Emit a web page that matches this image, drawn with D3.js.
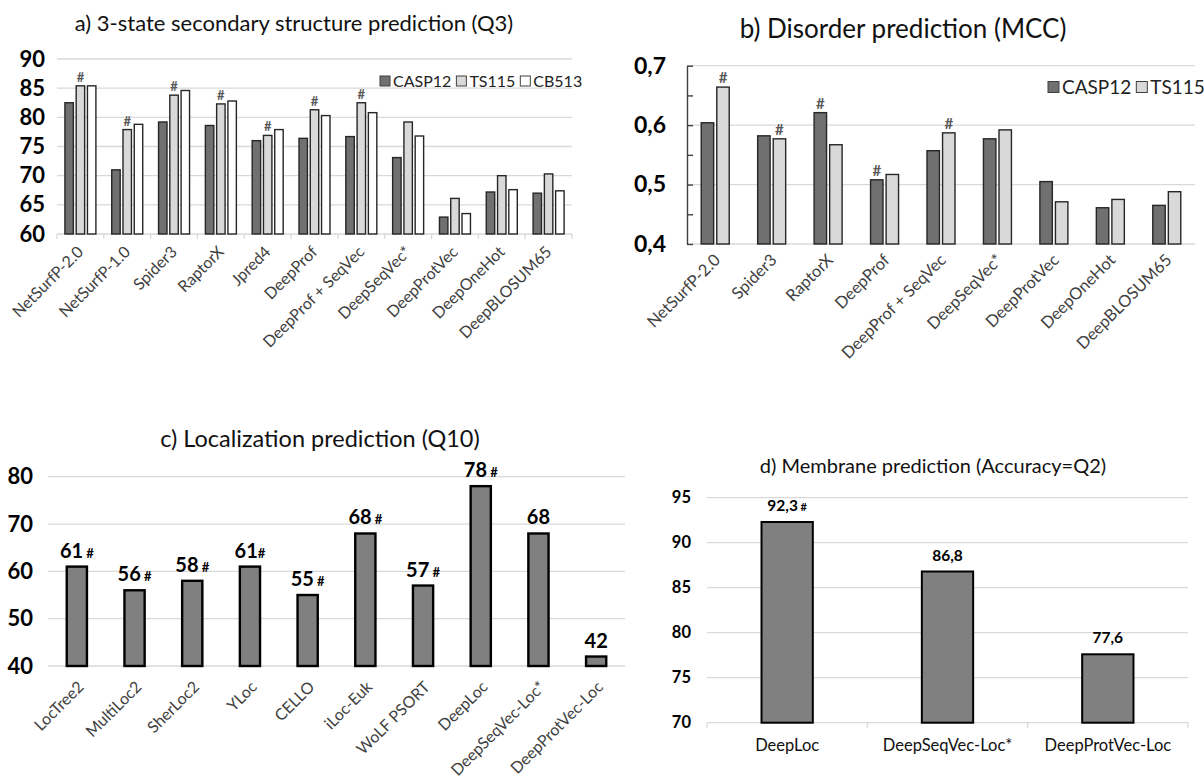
<!DOCTYPE html>
<html>
<head>
<meta charset="utf-8">
<script src="https://cdn.jsdelivr.net/npm/d3@7"></script>
<style>
  body { margin: 0; background: #fff; }
  svg { font-family: Lato, "Open Sans", sans-serif; }
</style>
</head>
<body>
<svg id="chart" width="1204" height="782"></svg>
<script>
// a) 3-state secondary structure prediction (Q3)
var catsA = ["NetSurfP-2.0", "NetSurfP-1.0", "Spider3", "RaptorX", "Jpred4", "DeepProf",
  "DeepProf + SeqVec", "DeepSeqVec*", "DeepProtVec", "DeepOneHot", "DeepBLOSUM65"];
var casp12A = [82.5, 71.0, 79.2, 78.6, 76.0, 76.4, 76.7, 73.1, 62.9, 67.2, 67.0];
var ts115A = [85.4, 77.9, 83.8, 82.3, 76.9, 81.3, 82.5, 79.2, 66.1, 70.0, 70.3];
var cb513A = [85.4, 78.8, 84.6, 82.8, 77.9, 80.3, 80.8, 76.8, 63.5, 67.6, 67.4];
var hashA = ["TS115", "TS115", "TS115", "TS115", "TS115", "TS115", "TS115", null, null, null, null];
var ticksA = [60, 65, 70, 75, 80, 85, 90];

// b) Disorder prediction (MCC)
var catsB = ["NetSurfP-2.0", "Spider3", "RaptorX", "DeepProf", "DeepProf + SeqVec",
  "DeepSeqVec*", "DeepProtVec", "DeepOneHot", "DeepBLOSUM65"];
var casp12B = [0.604, 0.582, 0.621, 0.508, 0.557, 0.577, 0.505, 0.461, 0.465];
var ts115B = [0.664, 0.577, 0.567, 0.517, 0.587, 0.592, 0.471, 0.475, 0.488];
var hashB = ["TS115", "TS115", "CASP12", "CASP12", "TS115", null, null, null, null];
var ticksB = [0.4, 0.5, 0.6, 0.7];
var minorB = [0.4, 0.45, 0.5, 0.55, 0.6, 0.65, 0.7];

// c) Localization prediction (Q10)
var catsC = ["LocTree2", "MultiLoc2", "SherLoc2", "YLoc", "CELLO", "iLoc-Euk", "WoLF PSORT",
  "DeepLoc", "DeepSeqVec-Loc*", "DeepProtVec-Loc"];
var valsC = [61, 56, 58, 61, 55, 68, 57, 78, 68, 42];
var hashC = [true, true, true, true, true, true, true, true, false, false];
var ticksC = [40, 50, 60, 70, 80];

// d) Membrane prediction (Accuracy=Q2)
var catsD = ["DeepLoc", "DeepSeqVec-Loc*", "DeepProtVec-Loc"];
var valsD = [92.3, 86.8, 77.6];
var hashD = [true, false, false];
var ticksD = [70, 75, 80, 85, 90, 95];

var colors = { CASP12: "#707070", TS115: "#d9d9d9", CB513: "#ffffff" };
var grid = "#d9d9d9";
var comma = d3.formatLocale({ decimal: ",", thousands: ".", grouping: [3], currency: ["", ""] });

var svg = d3.select("#chart");
svg.append("rect").attr("width", 1204).attr("height", 782).attr("fill", "#fff");

function title(txt, x, y, size) {
  svg.append("text").attr("x", x).attr("y", y).attr("text-anchor", "middle")
    .style("font-size", size + "px").attr("fill", "#111").text(txt);
}

function gridLines(g, ticks, y, x0, x1) {
  g.selectAll(".grid").data(ticks).enter().append("line")
    .attr("x1", x0).attr("x2", x1)
    .attr("y1", function(d){ return y(d); }).attr("y2", function(d){ return y(d); })
    .attr("stroke", grid).attr("stroke-width", 1.3);
}

function yLabels(g, y, ticks, xpos, size, fmt) {
  var ax = g.append("g").attr("transform", "translate(" + xpos + ",0)")
    .call(d3.axisLeft(y).tickValues(ticks).tickSize(0).tickPadding(0).tickFormat(fmt || d3.format("d")));
  ax.select(".domain").remove();
  ax.selectAll("text").style("font-size", size + "px").style("font-weight", "bold")
    .attr("fill", "#000").style("font-family", "Lato, sans-serif");
}

function boundaryTicks(g, x, yb, len) {
  var pos = x.domain().map(function(d){ return x(d) - x.paddingOuter() * x.step(); });
  pos.push(x.range()[1]);
  g.selectAll(".bt").data(pos).enter().append("line")
    .attr("x1", function(d){ return d; }).attr("x2", function(d){ return d; })
    .attr("y1", yb).attr("y2", yb + len).attr("stroke", grid).attr("stroke-width", 1.3);
}

function rotLabels(g, x, yb, size, dx, dy) {
  var ax = g.append("g").attr("transform", "translate(0," + yb + ")")
    .call(d3.axisBottom(x).tickSize(0).tickPadding(0));
  ax.select(".domain").remove();
  ax.selectAll("text")
    .attr("y", 0).attr("dy", "0.35em")
    .attr("transform", "translate(" + dx + "," + dy + ") rotate(-45)")
    .style("text-anchor", "end").style("font-size", size + "px")
    .style("font-family", "Lato, sans-serif").attr("fill", "#404040");
}

function legend(items, x, yc, sq, size) {
  var lg = svg.append("g");
  var cx = x;
  items.forEach(function(k) {
    lg.append("rect").attr("x", cx).attr("y", yc - sq / 2).attr("width", sq).attr("height", sq)
      .attr("fill", colors[k]).attr("stroke", "#404040").attr("stroke-width", 1);
    var t = lg.append("text").attr("x", cx + sq + 3).attr("y", yc).attr("dy", "0.35em")
      .style("font-size", size + "px").attr("fill", "#222").text(k);
    cx = cx + sq + 3 + t.node().getComputedTextLength() + 5;
  });
}

function grouped(o) {
  var g = svg.append("g");
  var x = d3.scaleBand().domain(o.cats).range(o.xr);
  var keys = o.series.map(function(s){ return s.key; });
  var off = (x.bandwidth() - o.gw) / 2;
  var x1 = d3.scaleBand().domain(keys).range([off, off + o.gw]).paddingInner(o.pin);
  var y = d3.scaleLinear().domain(o.yd).range(o.yr);

  gridLines(g, o.grid, y, o.xr[0], o.xr[1]);

  var groups = g.selectAll(".grp").data(o.cats).enter().append("g")
    .attr("transform", function(d){ return "translate(" + x(d) + ",0)"; });
  groups.selectAll("rect")
    .data(function(d, i){ return o.series.map(function(s){ return { key: s.key, v: s.values[i] }; }); })
    .enter().append("rect")
    .attr("x", function(d){ return x1(d.key); })
    .attr("y", function(d){ return y(d.v); })
    .attr("width", x1.bandwidth())
    .attr("height", function(d){ return y(o.yd[0]) - y(d.v); })
    .attr("fill", function(d){ return colors[d.key]; })
    .attr("stroke", "#262626").attr("stroke-width", 1.4);

  groups.each(function(c, i) {
    var k = o.hash[i];
    if (!k) return;
    var v = o.series[keys.indexOf(k)].values[i];
    d3.select(this).append("text")
      .attr("x", x1(k) + x1.bandwidth() / 2).attr("y", y(v) - 4)
      .attr("text-anchor", "middle").style("font-size", o.hashSize + "px")
      .style("font-weight", "bold").attr("fill", "#595959").text("#");
  });
  return { g: g, x: x, y: y };
}

// ---- panel a
title("a) 3-state secondary structure prediction (Q3)", 294, 31, 22);
var pa = grouped({
  cats: catsA, xr: [57, 572], yd: [60, 90], yr: [234, 59], gw: 31, pin: 0.25,
  series: [{ key: "CASP12", values: casp12A }, { key: "TS115", values: ts115A }, { key: "CB513", values: cb513A }],
  hash: hashA, hashSize: 13, grid: ticksA
});
boundaryTicks(pa.g, pa.x, 234, 5);
yLabels(pa.g, pa.y, ticksA, 45, 22);
rotLabels(pa.g, pa.x, 234, 16, 0, 15);
legend(["CASP12", "TS115", "CB513"], 380, 81, 10, 16);

// ---- panel b
title("b) Disorder prediction (MCC)", 903, 38, 26);
var pb = grouped({
  cats: catsB, xr: [687, 1195], yd: [0.4, 0.7], yr: [244, 65.7], gw: 28, pin: 0.2,
  series: [{ key: "CASP12", values: casp12B }, { key: "TS115", values: ts115B }],
  hash: hashB, hashSize: 15, grid: ticksB
});
var axb = pb.g.append("g").attr("transform", "translate(687,0)")
  .call(d3.axisLeft(pb.y).tickValues(minorB).tickSize(-6).tickSizeOuter(0).tickFormat(""));
axb.selectAll("line, path").attr("stroke", "#404040").attr("stroke-width", 1.4);
yLabels(pb.g, pb.y, ticksB, 666, 23, comma.format(".1f"));
rotLabels(pb.g, pb.x, 244, 16.5, 2, 13);
legend(["CASP12", "TS115"], 1048, 87, 11, 19);

// ---- panel c
title("c) Localization prediction (Q10)", 320, 447, 23.5);
var gc = svg.append("g");
var xc = d3.scaleBand().domain(catsC).range([48, 625]).paddingInner(0.65).paddingOuter(0.325);
var yc = d3.scaleLinear().domain([40, 80]).range([666, 476.7]);
gridLines(gc, ticksC, yc, 48, 625);
gc.selectAll(".bar").data(valsC).enter().append("rect")
  .attr("x", function(d, i){ return xc(catsC[i]); })
  .attr("y", function(d){ return yc(d); })
  .attr("width", xc.bandwidth())
  .attr("height", function(d){ return yc(40) - yc(d); })
  .attr("fill", "#808080").attr("stroke", "#000").attr("stroke-width", 2.4);
var lc = gc.selectAll(".vl").data(valsC).enter().append("text")
  .attr("x", function(d, i){ return xc(catsC[i]) + xc.bandwidth() / 2; })
  .attr("y", function(d){ return yc(d) - 9; })
  .attr("text-anchor", "middle").style("font-weight", "bold").attr("fill", "#000");
lc.append("tspan").style("font-size", "20px").text(function(d){ return d; });
lc.append("tspan").style("font-size", "13px").text(function(d, i){ return hashC[i] ? (i === 3 ? "#" : " #") : ""; });
yLabels(gc, yc, ticksC, 33, 22);
rotLabels(gc, xc, 666, 16, 4, 18);

// ---- panel d
title("d) Membrane prediction (Accuracy=Q2)", 933, 473, 20);
var gd = svg.append("g");
var xd = d3.scaleBand().domain(catsD).range([707, 1188]).paddingInner(0.68).paddingOuter(0.34);
var yd = d3.scaleLinear().domain([70, 95]).range([722.7, 497.7]);
gridLines(gd, ticksD, yd, 707, 1188);
boundaryTicks(gd, xd, 722.7, 5);
gd.selectAll(".bar").data(valsD).enter().append("rect")
  .attr("x", function(d, i){ return xd(catsD[i]); })
  .attr("y", function(d){ return yd(d); })
  .attr("width", xd.bandwidth())
  .attr("height", function(d){ return yd(70) - yd(d); })
  .attr("fill", "#808080").attr("stroke", "#000").attr("stroke-width", 2);
var ld = gd.selectAll(".vl").data(valsD).enter().append("text")
  .attr("x", function(d, i){ return xd(catsD[i]) + xd.bandwidth() / 2; })
  .attr("y", function(d){ return yd(d) - 11; })
  .attr("text-anchor", "middle").style("font-weight", "bold").attr("fill", "#000");
ld.append("tspan").style("font-size", "15.5px").text(function(d){ return comma.format(".1f")(d); });
ld.append("tspan").style("font-size", "11px").text(function(d, i){ return hashD[i] ? " #" : ""; });
yLabels(gd, yd, ticksD, 691, 16.5);
var axd = gd.append("g").attr("transform", "translate(0,722.7)")
  .call(d3.axisBottom(xd).tickSize(0).tickPadding(17));
axd.select(".domain").remove();
axd.selectAll("text").style("font-size", "16.5px").style("font-family", "Lato, sans-serif").attr("fill", "#111");
</script>
</body>
</html>
